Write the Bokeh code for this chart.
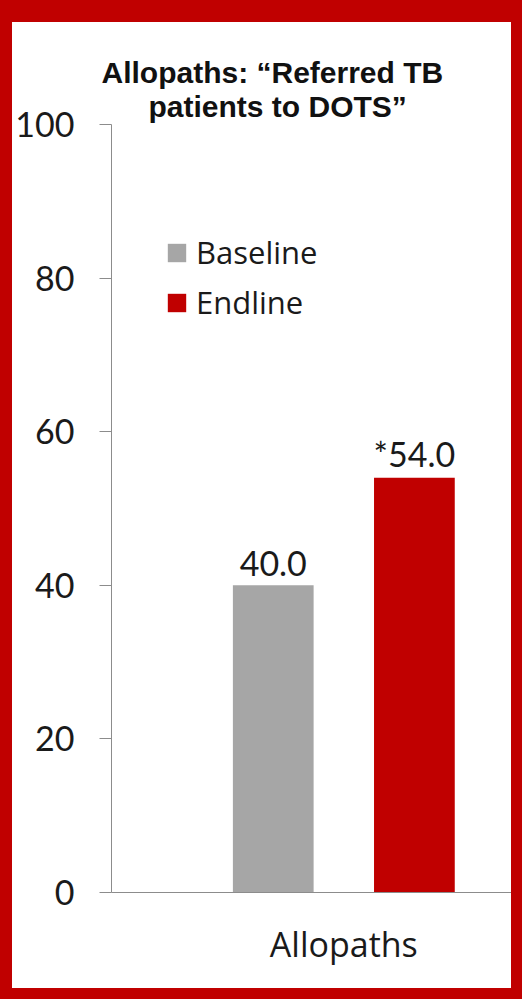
from bokeh.plotting import figure
from bokeh.models import (Range1d, FixedTicker, Title, Legend, LegendItem,
                          ColumnDataSource)
from bokeh.transform import dodge
from bokeh.core.properties import value
from bokeh.embed import file_html
from bokeh.resources import INLINE

# ---- data ----
categories = ["Allopaths"]
series = ["Baseline", "Endline"]
baseline = [40.0]
endline = [54.0]
significant = [False, True]          # "*" marks significant change at endline
y_ticks = [0, 20, 40, 60, 80, 100]
title_lines = ["Allopaths: \u201cReferred TB", "patients to DOTS\u201d"]

RED = "#c00000"
GRAY = "#a6a6a6"
NUM_FONT = "Lato"
TXT_FONT = "Open Sans"

cat_pos = [i + 1 for i in range(len(categories))]
src = ColumnDataSource(dict(
    x=cat_pos,
    base=baseline,
    end=endline,
    base_lbl=[("*" if significant[0] else "") + f"{v:.1f}" for v in baseline],
    end_lbl=[("*" if significant[1] else "") + f"{v:.1f}" for v in endline],
))

p = figure(width=522, height=999, output_backend="svg", toolbar_location=None,
           x_range=Range1d(0.177, 1.594), y_range=Range1d(0, 100),
           min_border_left=98, min_border_right=23, min_border_top=102,
           min_border_bottom=129, outline_line_color=None,
           background_fill_color="white", border_fill_color="white",
           styles={"border-style": "solid", "border-color": RED,
                   "border-width": "22px 11px 11px 12px"})

p.xgrid.visible = False
p.ygrid.visible = False

r_base = p.vbar(x=dodge("x", -0.25, range=p.x_range), top="base", width=0.286,
                source=src, fill_color=GRAY, line_color=None)
r_end = p.vbar(x=dodge("x", 0.25, range=p.x_range), top="end", width=0.286,
               source=src, fill_color=RED, line_color=None)

p.text(x=dodge("x", -0.25, range=p.x_range), y="base", text="base_lbl", source=src,
       text_align="center", text_baseline="alphabetic", y_offset=-22,
       text_font=value(NUM_FONT), text_font_size="34px", text_color="#1a1a1a")
p.text(x=dodge("x", 0.25, range=p.x_range), y="end", text="end_lbl", source=src,
       text_align="center", text_baseline="alphabetic", y_offset=-24,
       text_font=value(NUM_FONT), text_font_size="34px", text_color="#1a1a1a")

# axes
ax_color = "#8c8c8c"
yax = p.yaxis[0]
yax.ticker = FixedTicker(ticks=y_ticks)
yax.minor_tick_line_color = None
yax.major_tick_in = 0
yax.major_tick_out = 12
yax.axis_line_color = ax_color
yax.major_tick_line_color = ax_color
yax.major_label_standoff = 25
yax.major_label_text_font = NUM_FONT
yax.major_label_text_font_size = "34px"
yax.major_label_text_color = "#1a1a1a"

xax = p.xaxis[0]
xax.ticker = FixedTicker(ticks=cat_pos)
xax.major_label_overrides = {c: n for c, n in zip(cat_pos, categories)}
xax.minor_tick_line_color = None
xax.major_tick_in = 0
xax.major_tick_out = 0
xax.axis_line_color = ax_color
xax.major_label_standoff = 28
xax.major_label_text_font = TXT_FONT
xax.major_label_text_font_size = "34px"
xax.major_label_text_color = "#1a1a1a"

# legend
legend = Legend(items=[LegendItem(label=series[0], renderers=[r_base]),
                       LegendItem(label=series[1], renderers=[r_end])],
                location=(54, 569), orientation="vertical",
                glyph_width=23, glyph_height=23, label_standoff=8,
                label_text_font=TXT_FONT, label_text_font_size="31px",
                label_text_color="#1a1a1a", spacing=8, padding=0, margin=0,
                border_line_color=None, background_fill_alpha=0)
p.add_layout(legend, "center")

# title (two lines) -- first added sits closest to the plot frame
for line, off, so in [(title_lines[1], 37, 3), (title_lines[0], -10, -5)]:
    p.add_layout(Title(text=line, align="left", offset=off, standoff=so,
                       text_font="Liberation Sans", text_font_style="bold",
                       text_font_size="30px", text_color="#111111"), "above")

open("out.html", "w").write(file_html(p, INLINE))
